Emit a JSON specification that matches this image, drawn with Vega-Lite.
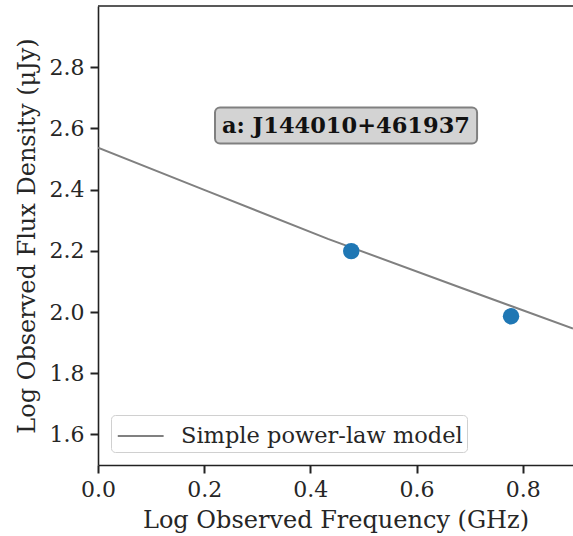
{
  "$schema": "https://vega.github.io/schema/vega-lite/v6.json",
  "autosize": "none",
  "width": 475,
  "height": 459,
  "padding": {"left": 98, "top": 6, "right": 0, "bottom": 71},
  "background": "white",
  "config": {
    "view": {"stroke": null},
    "font": "DejaVu Serif",
    "axis": {
      "grid": false,
      "domainColor": "#222222",
      "domainWidth": 1.6,
      "tickColor": "#222222",
      "tickWidth": 2,
      "tickSize": 8,
      "labelFont": "DejaVu Serif",
      "labelFontSize": 22,
      "labelColor": "#262626",
      "labelFlush": false,
      "titleFont": "DejaVu Serif",
      "titleFontSize": 24,
      "titleFontWeight": "normal",
      "titleColor": "#262626"
    },
    "legend": {
      "labelFont": "DejaVu Serif",
      "labelFontSize": 22.5,
      "labelColor": "#262626",
      "labelLimit": 0
    }
  },
  "datasets": {
    "model": [
      {"logfreq": 0.0, "logflux": 2.537},
      {"logfreq": 0.2, "logflux": 2.399},
      {"logfreq": 0.433, "logflux": 2.239},
      {"logfreq": 0.6875, "logflux": 2.077},
      {"logfreq": 0.8947, "logflux": 1.946}
    ],
    "obs": [
      {"logfreq": 0.477, "logflux": 2.199},
      {"logfreq": 0.778, "logflux": 1.986}
    ],
    "anchor": [{}]
  },
  "layer": [
    {
      "data": {"name": "model"},
      "mark": {"type": "line", "strokeWidth": 2, "clip": true},
      "encoding": {
        "x": {
          "field": "logfreq", "type": "quantitative",
          "scale": {"domain": [0, 0.8947], "nice": false, "zero": false},
          "axis": {"values": [0, 0.2, 0.4, 0.6, 0.8], "format": ".1f", "title": "Log Observed Frequency (GHz)", "labelPadding": 6, "titlePadding": 8}
        },
        "y": {
          "field": "logflux", "type": "quantitative",
          "scale": {"domain": [1.5, 3.0], "nice": false, "zero": false},
          "axis": {"values": [1.6, 1.8, 2.0, 2.2, 2.4, 2.6, 2.8], "format": ".1f", "title": "Log Observed Flux Density (μJy)", "labelPadding": 6, "titlePadding": 10}
        },
        "color": {
          "datum": "Simple power-law model",
          "type": "nominal",
          "scale": {"range": ["#808080"]},
          "legend": {
            "title": null,
            "orient": "none",
            "legendX": 13,
            "legendY": 409,
            "symbolType": "M-0.9,0H2.0",
            "symbolSize": 1000,
            "symbolStrokeWidth": 2,
            "symbolStrokeColor": "#808080",
            "symbolFillColor": "transparent",
            "padding": 4,
            "strokeColor": "#d0d0d0",
            "fillColor": "white",
            "cornerRadius": 4,
            "labelOffset": 32
          }
        }
      }
    },
    {
      "data": {"name": "anchor"},
      "mark": {"type": "rule", "color": "#222222", "strokeWidth": 1.6},
      "encoding": {
        "x": {"datum": 0, "type": "quantitative"},
        "x2": {"datum": 0.8947},
        "y": {"datum": 3.0, "type": "quantitative"}
      }
    },
    {
      "data": {"name": "obs"},
      "mark": {"type": "circle", "size": 270, "color": "#1f77b4", "opacity": 1},
      "encoding": {
        "x": {"field": "logfreq", "type": "quantitative"},
        "y": {"field": "logflux", "type": "quantitative"}
      }
    },
    {
      "data": {"name": "anchor"},
      "mark": {"type": "rect", "fill": "#d3d3d3", "stroke": "#808080", "strokeWidth": 2, "cornerRadius": 5},
      "encoding": {
        "x": {"datum": 0.2204, "type": "quantitative"},
        "x2": {"datum": 0.714},
        "y": {"datum": 2.668, "type": "quantitative"},
        "y2": {"datum": 2.551}
      }
    },
    {
      "data": {"name": "anchor"},
      "mark": {"type": "text", "font": "DejaVu Serif", "fontWeight": "bold", "fontSize": 22.5, "color": "#111111", "align": "center", "baseline": "middle"},
      "encoding": {
        "x": {"datum": 0.467, "type": "quantitative"},
        "y": {"datum": 2.609, "type": "quantitative"},
        "text": {"value": "a: J144010+461937"}
      }
    }
  ]
}
